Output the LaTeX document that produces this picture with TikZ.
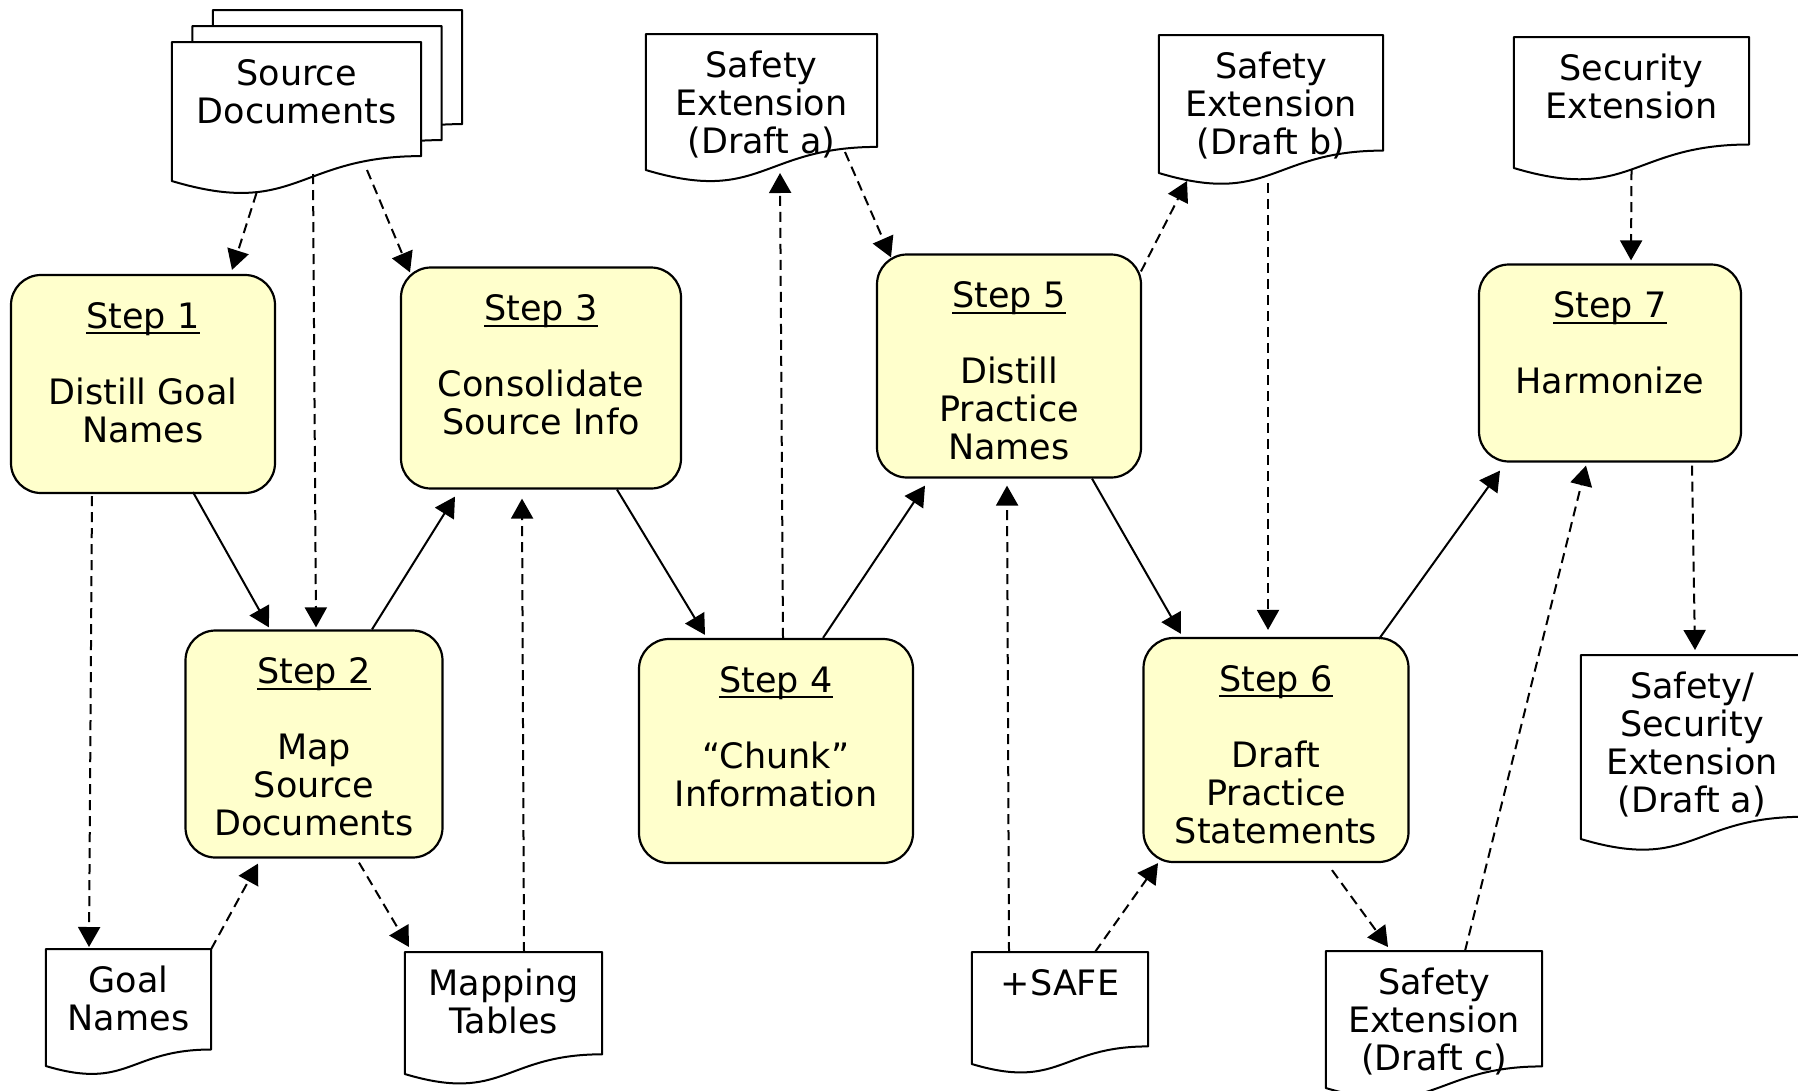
\documentclass[tikz,border=0pt]{standalone}
\usepackage{fontspec}
\setmainfont{DejaVu Sans}
\usepackage{xcolor}
\usetikzlibrary{arrows.meta, positioning, calc, backgrounds}
\definecolor{stepfill}{HTML}{FFFFCC}
\newcommand{\steptitle}[1]{\setbox0\hbox{#1}\rlap{\rule[-6pt]{\wd0}{1.8pt}}\box0}
\newcommand{\docpath}[3]{%
  \draw[docedge] (#1.north west) -- (#1.north east) -- ++(0,{#3-0.1*#2})
    .. controls +({-0.5*#2},0) and +({0.5*#2},{0.15*#2}) .. ($(#1.north west)+(0,#3)$) -- cycle;}

\begin{document}
\begin{tikzpicture}[x=1pt, y=-1pt, font=\fontsize{35}{38}\selectfont,
  stepbox/.style={draw, line width=2.2pt, rounded corners=30pt, fill=stepfill, inner sep=0pt},
  steptext/.style={anchor=north, align=center, inner sep=0pt},
  docbox/.style={anchor=north, align=center, inner xsep=0pt, inner ysep=17pt, minimum width=#1},
  docedge/.style={line width=2pt, fill=white, line join=round},
  flow/.style={line width=2pt, -{Triangle[length=20pt,width=22pt]}},
  feed/.style={flow, dash pattern=on 10pt off 6pt}]
\useasboundingbox (0,0) rectangle (1798,1090);

\node[stepbox, minimum width=264pt, minimum height=218pt] (s1) at (143,384) {};
\node[stepbox, minimum width=257pt, minimum height=227pt] (s2) at (314,744) {};
\node[stepbox, minimum width=280pt, minimum height=221pt] (s3) at (541,378) {};
\node[stepbox, minimum width=274pt, minimum height=224pt] (s4) at (776,751) {};
\node[stepbox, minimum width=264pt, minimum height=223pt] (s5) at (1009,366) {};
\node[stepbox, minimum width=265pt, minimum height=224pt] (s6) at (1276,750) {};
\node[stepbox, minimum width=262pt, minimum height=197pt] (s7) at (1610,363) {};

\node[steptext] (s1t) at ($(s1.north)+(0,28)$) {\steptitle{Step 1}\\[38pt]Distill Goal\\Names};
\node[steptext] (s2t) at ($(s2.north)+(0,28)$) {\steptitle{Step 2}\\[38pt]Map\\Source\\Documents};
\node[steptext] (s3t) at ($(s3.north)+(0,28)$) {\steptitle{Step 3}\\[38pt]Consolidate\\Source Info};
\node[steptext] (s4t) at ($(s4.north)+(0,28)$) {\steptitle{Step 4}\\[38pt]“Chunk”\\Information};
\node[steptext] (s5t) at ($(s5.north)+(0,28)$) {\steptitle{Step 5}\\[38pt]Distill\\Practice\\Names};
\node[steptext] (s6t) at ($(s6.north)+(0,28)$) {\steptitle{Step 6}\\[38pt]Draft\\Practice\\Statements};
\node[steptext] (s7t) at ($(s7.north)+(0,28)$) {\steptitle{Step 7}\\[38pt]Harmonize};

\node[docbox=249pt] (src3) at (337.5,10) {};
\node[docbox=249pt] (src2) at (317,26) {};
\node[docbox=249pt] (src) at (296.5,42) {Source\\Documents};
\node[docbox=231pt] (sfa) at (761.5,34) {Safety\\Extension\\(Draft a)};
\node[docbox=224pt] (sfb) at (1271,35) {Safety\\Extension\\(Draft b)};
\node[docbox=235pt] (sec) at (1631.5,37) {Security\\Extension};
\node[docbox=222pt] (ssa) at (1692,655) {Safety/\\Security\\Extension\\(Draft a)};
\node[docbox=165pt] (gn) at (128.5,949) {Goal\\Names};
\node[docbox=197pt] (mt) at (503.5,952) {Mapping\\Tables};
\node[docbox=176pt] (safe) at (1060,952) {+SAFE};
\node[docbox=216pt] (sfc) at (1434,951) {Safety\\Extension\\(Draft c)};

\begin{scope}[on background layer]
\docpath{src3}{249}{139}
\docpath{src2}{249}{139}
\docpath{src}{249}{139}
\docpath{sfa}{231}{136}
\docpath{sfb}{224}{138}
\docpath{sec}{235}{131}
\docpath{ssa}{222}{184}
\docpath{gn}{165}{117}
\docpath{mt}{197}{122}
\docpath{safe}{176}{112}
\docpath{sfc}{216}{137}
\end{scope}

\draw[flow] ($(s1.south)+(50,-2)$) -- ($(s2.north)+(-45,-2)$);
\draw[flow] ($(s2.north)+(58,0)$) -- ($(s3.south)+(-86,7)$);
\draw[flow] ($(s3.south)+(76,0)$) -- ($(s4.north)+(-71,-3)$);
\draw[flow] ($(s4.north)+(47,0)$) -- ($(s5.south)+(-84,7)$);
\draw[flow] ($(s5.south)+(83,0)$) -- ($(s6.north)+(-95,-3)$);
\draw[flow] ($(s6.north)+(103,2)$) -- ($(s7.south)+(-110,8)$);

\draw[feed] ($(src.north)+(-40,151)$) -- ($(s1.north)+(89,-4)$);
\draw[feed] ($(src.north)+(16.5,132)$) -- ($(s2.north)+(2,-2)$);
\draw[feed] ($(src.north)+(70.5,128)$) -- ($(s3.north)+(-131,6)$);
\draw[feed] ($(s1.south)+(-51,2)$) -- ($(gn.north)+(-39.5,-2)$);
\draw[feed] (gn.north east) -- ($(s2.south)+(-56,5)$);
\draw[feed] ($(s2.south)+(45,4)$) -- ($(mt.north)+(-94.5,-5)$);
\draw[feed] ($(mt.north)+(20.5,0)$) -- ($(s3.south)+(-19,9)$);
\draw[feed] ($(s4.north)+(7,0)$) -- ($(sfa.north)+(18.5,139)$);
\draw[feed] ($(sfa.north)+(83.5,118)$) -- ($(s5.north)+(-118,4)$);
\draw[feed] ($(s5.north)+(132,18)$) -- ($(sfb.north)+(-84,146)$);
\draw[feed] ($(sfb.north)+(-3,148)$) -- ($(s6.north)+(-8,-7)$);
\draw[feed] ($(safe.north)+(-51,0)$) -- ($(s5.south)+(-2,7)$);
\draw[feed] ($(safe.north)+(35,0)$) -- ($(s6.south)+(-118,0)$);
\draw[feed] ($(s6.south)+(56,7)$) -- ($(sfc.north)+(-46,-4)$);
\draw[feed] ($(sfc.north)+(31,0)$) -- ($(s7.south)+(-24,3)$);
\draw[feed] ($(sec.north)+(0,133)$) -- ($(s7.north)+(21,-3)$);
\draw[feed] ($(s7.south)+(82,3)$) -- ($(ssa.north)+(3,-5)$);
\end{tikzpicture}
\end{document}
